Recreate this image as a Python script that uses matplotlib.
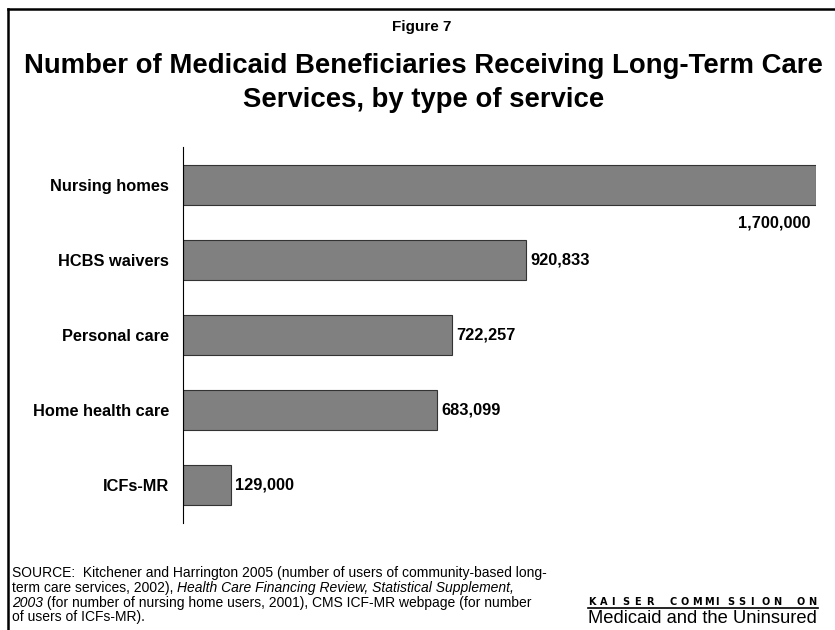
import matplotlib.pyplot as plt
from matplotlib.lines import Line2D

plt.rcParams['font.family'] = ['Liberation Sans', 'DejaVu Sans']

services = ['Nursing homes', 'HCBS waivers', 'Personal care', 'Home health care', 'ICFs-MR']
users = [1700000, 920833, 722257, 683099, 129000]

fig = plt.figure(figsize=(8.35, 6.3), dpi=100)
W, H = 835, 630

# outer frame (top and left edges)
fig.add_artist(Line2D([8 / W, 8 / W], [0, 1 - 9 / H], color='black', lw=1.8))
fig.add_artist(Line2D([8 / W, 1], [1 - 9 / H, 1 - 9 / H], color='black', lw=1.8))

fig.text(422 / W, 1 - 31 / H, 'Figure 7', ha='center', va='baseline',
         fontsize=11, fontweight='bold')
title_lines = ['Number of Medicaid Beneficiaries Receiving Long-Term Care',
               'Services, by type of service']
for k, line in enumerate(title_lines):
    fig.text(423.5 / W, 1 - (73 + 34 * k) / H, line, ha='center', va='baseline',
             fontsize=19.8, fontweight='bold')

ax = fig.add_axes([183 / W, 1 - 523 / H, 633 / W, 376 / H])
ypos = list(range(len(services)))
ax.barh(ypos, users, height=0.533, color='#808080', edgecolor='#333333', linewidth=0.8)
ax.set_xlim(0, 1700000)
ax.set_ylim(4.507, -0.507)
ax.set_yticks(ypos)
ax.set_yticklabels(services, fontsize=11.8, fontweight='bold')
ax.tick_params(axis='y', length=0, pad=10)
ax.set_xticks([])
for s in ['top', 'right', 'bottom']:
    ax.spines[s].set_visible(False)
ax.spines['left'].set_linewidth(0.8)

for i, v in enumerate(users):
    lbl = f'{v:,}'
    if i == 0:
        # the longest bar gets its label underneath
        ax.annotate(lbl, (v, i), xytext=(-4, -27), textcoords='offset points',
                    ha='right', va='center', fontsize=11.8, fontweight='bold')
    else:
        ax.annotate(lbl, (v, i), xytext=(3, 0), textcoords='offset points',
                    ha='left', va='center', fontsize=11.8, fontweight='bold')

# source note, with italic publication title
src_lines = [
    [('SOURCE:  Kitchener and Harrington 2005 (number of users of community-based long-', 'normal')],
    [('term care services, 2002), ', 'normal'),
     ('Health Care Financing Review, Statistical Supplement,', 'italic')],
    [('2003', 'italic'),
     (' (for number of nursing home users, 2001), CMS ICF-MR webpage (for number', 'normal')],
    [('of users of ICFs-MR).', 'normal')],
]
renderer = fig.canvas.get_renderer()
for k, parts in enumerate(src_lines):
    y = 1 - (577 + k * 14.8) / H
    x = 12 / W
    for txt, style in parts:
        t = fig.text(x, y, txt, ha='left', va='baseline', fontsize=10, fontstyle=style)
        x = t.get_window_extent(renderer).x1 / fig.bbox.width

# logo: letter-spaced heading, rule, then name
head = 'KAISER COMMISSION ON'
pitch = 220 / 19
xpos = 588
for ch in head:
    if ch == ' ':
        xpos += pitch
        continue
    fig.text(xpos / W, 1 - 605 / H, ch, ha='left', va='baseline',
             fontsize=7, fontweight='bold', family='DejaVu Sans')
    xpos += pitch
fig.add_artist(Line2D([588 / W, 818 / W], [1 - 607.5 / H, 1 - 607.5 / H], color='black', lw=1.2))
fig.text(588 / W, 1 - 623 / H, 'Medicaid and the Uninsured', ha='left', va='baseline',
         fontsize=13.2)

fig.savefig('out.png', dpi=100)
